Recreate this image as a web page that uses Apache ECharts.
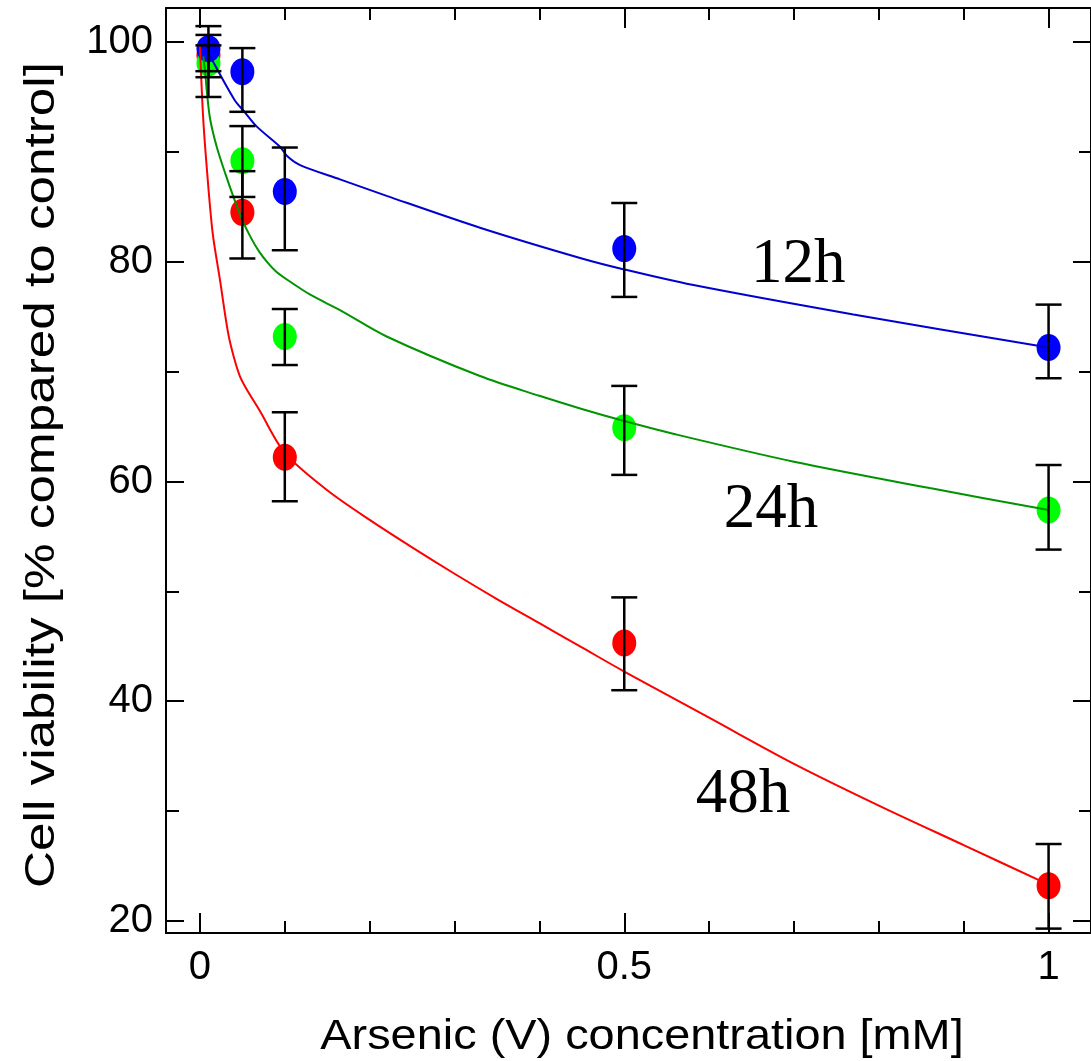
<!DOCTYPE html>
<html>
<head>
<meta charset="utf-8">
<script src="https://cdn.jsdelivr.net/npm/echarts@6/dist/echarts.min.js"></script>
<style>
  html, body { margin: 0; padding: 0; background: #ffffff; }
  #chart { width: 1091px; height: 1061px; }
</style>
</head>
<body>
<div id="chart"></div>
<script>
// Arsenic (V) concentrations (mM) at which viability was measured
const conc = [0.01, 0.05, 0.1, 0.5, 1];

// Mean viability (% of control) and error bar extents for each exposure time
const viab12 = [99.4, 97.3, 86.4, 81.2, 72.2];
const errUp12 = [2.05, 2.15, 4.0, 4.15, 3.9];
const errDn12 = [2.05, 3.65, 5.35, 4.4, 2.8];

const viab24 = [98.1, 89.2, 73.2, 64.9, 57.4];
const errUp24 = [1.6, 3.15, 2.5, 3.8, 4.1];
const errDn24 = [3.1, 3.3, 2.6, 4.3, 3.6];

const viab48 = [98.8, 84.5, 62.2, 45.3, 23.2];
const errUp48 = [1.85, 3.75, 4.1, 4.15, 3.8];
const errDn48 = [2.0, 4.2, 4.0, 4.3, 3.9];

// Fitted curves
const fitX12 = [0.01, 0.041, 0.053, 0.067, 0.094, 0.103, 0.118, 0.165, 0.22, 0.33, 0.45, 0.5, 0.58, 0.77, 1.0];
const fitY12 = [99.0, 94.7, 93.6, 92.3, 90.5, 89.6, 88.8, 87.5, 86.0, 83.1, 80.3, 79.3, 77.9, 75.2, 72.2];

const fitX24 = [0.004, 0.006, 0.008, 0.012, 0.02, 0.03, 0.04, 0.05, 0.06, 0.07, 0.08, 0.09, 0.106, 0.13, 0.165, 0.22, 0.33, 0.4, 0.45, 0.5, 0.56, 0.7, 0.86, 1.0];
const fitY24 = [98.7, 97.4, 95.6, 93.0, 90.4, 88.0, 85.8, 83.8, 82.2, 80.9, 79.9, 79.1, 78.2, 77.0, 75.6, 73.2, 69.6, 67.8, 66.6, 65.5, 64.3, 61.8, 59.4, 57.4];

const fitX48 = [0.0, 0.0035, 0.008, 0.015, 0.0235, 0.033, 0.04, 0.047, 0.055, 0.07, 0.1, 0.15, 0.2, 0.25, 0.3, 0.35, 0.4, 0.45, 0.5, 0.6, 0.7, 0.8, 0.9, 1.0];
const fitY48 = [99.7, 93.5, 88.6, 82.6, 78.4, 73.6, 71.3, 69.6, 68.4, 66.5, 62.6, 59.2, 56.5, 54.0, 51.6, 49.3, 47.1, 44.9, 42.7, 38.5, 34.3, 30.5, 26.9, 23.3];

// Axis ticks
const xMajorTicks = [0, 0.5, 1];
const xMinorTicks = [0.1, 0.2, 0.3, 0.4, 0.6, 0.7, 0.8, 0.9];
const yMajorTicks = [20, 40, 60, 80, 100];
const yMinorTicks = [30, 50, 70, 90];

// Curve labels, placed in data coordinates
const curveNames = ['12h', '24h', '48h'];
const curveNamePos = [[0.705, 79.7], [0.673, 57.4], [0.64, 31.4]];

const xTitle = 'Arsenic (V) concentration [mM]';
const yTitle = 'Cell viability [% compared to control]';

const pairs = (xs, ys) => xs.map((x, i) => [x, ys[i]]);
const errRows = (vals, up, dn) => conc.map((x, i) => [x, vals[i], vals[i] - dn[i], vals[i] + up[i]]);

const X_MIN = -0.04, X_MAX = 1.05;
const Y_MIN = 18.9, Y_MAX = 103.1;

const black = '#000000';
const sansFont = '"Liberation Sans", Arial, sans-serif';
const serifFont = '"Liberation Serif", "Times New Roman", serif';

function xAxisDef(pos, ticks, len, withLine, withLabels) {
  return {
    type: 'value', position: pos, min: X_MIN, max: X_MAX,
    axisLine: { show: withLine, onZero: false, lineStyle: { color: black, width: 2 } },
    axisTick: { show: true, inside: true, length: len, customValues: ticks, lineStyle: { color: black, width: 2 } },
    axisLabel: withLabels ? {
      show: true, customValues: ticks, color: black, fontSize: 40, fontFamily: sansFont, margin: 15,
      formatter: v => String(v)
    } : { show: false },
    splitLine: { show: false }
  };
}

function yAxisDef(pos, ticks, len, withLine, withLabels) {
  return {
    type: 'value', position: pos, min: Y_MIN, max: Y_MAX,
    axisLine: { show: withLine, onZero: false, lineStyle: { color: black, width: 2 } },
    axisTick: { show: true, inside: true, length: len, customValues: ticks, lineStyle: { color: black, width: 2 } },
    axisLabel: withLabels ? {
      show: true, customValues: ticks, color: black, fontSize: 40, fontFamily: sansFont, margin: 13
    } : { show: false },
    splitLine: { show: false }
  };
}

function errorBarSeries(vals, up, dn) {
  return {
    type: 'custom',
    xAxisIndex: 0, yAxisIndex: 0,
    z: 5,
    silent: true,
    data: errRows(vals, up, dn),
    renderItem: function (params, api) {
      const x = api.value(0);
      const pLo = api.coord([x, api.value(2)]);
      const pHi = api.coord([x, api.value(3)]);
      const half = 13;
      const style = { stroke: black, lineWidth: 2.5 };
      return {
        type: 'group',
        children: [
          { type: 'line', shape: { x1: pLo[0], y1: pLo[1], x2: pHi[0], y2: pHi[1] }, style },
          { type: 'line', shape: { x1: pLo[0] - half, y1: pLo[1], x2: pLo[0] + half, y2: pLo[1] }, style },
          { type: 'line', shape: { x1: pHi[0] - half, y1: pHi[1], x2: pHi[0] + half, y2: pHi[1] }, style }
        ]
      };
    }
  };
}

function dotSeries(vals, color, z) {
  return {
    type: 'scatter', xAxisIndex: 0, yAxisIndex: 0, z: z,
    symbol: 'circle', symbolSize: [24, 27],
    itemStyle: { color: color, opacity: 1 },
    data: pairs(conc, vals), silent: true
  };
}

function curveSeries(xs, ys, color) {
  return {
    type: 'line', xAxisIndex: 0, yAxisIndex: 0, z: 4,
    data: pairs(xs, ys), showSymbol: false, symbol: 'none',
    smooth: 0.3,
    lineStyle: { color: color, width: 2 }, silent: true
  };
}

const chart = echarts.init(document.getElementById('chart'), null, { renderer: 'canvas' });

chart.setOption({
  animation: false,
  backgroundColor: '#ffffff',
  grid: { left: 166, top: 8, width: 927, height: 925, containLabel: false },
  xAxis: [
    xAxisDef('bottom', xMajorTicks, 20, true, true),
    xAxisDef('bottom', xMinorTicks, 12, false, false),
    xAxisDef('top', xMajorTicks, 20, true, false),
    xAxisDef('top', xMinorTicks, 12, false, false)
  ],
  yAxis: [
    yAxisDef('left', yMajorTicks, 18, true, true),
    yAxisDef('left', yMinorTicks, 13, false, false),
    yAxisDef('right', yMajorTicks, 18, true, false),
    yAxisDef('right', yMinorTicks, 12, false, false)
  ],
  series: [
    dotSeries(viab48, '#ff0000', 2),
    dotSeries(viab24, '#00ff00', 2.1),
    dotSeries(viab12, '#0000ff', 2.2),
    curveSeries(fitX48, fitY48, '#ff0000'),
    curveSeries(fitX24, fitY24, '#009400'),
    curveSeries(fitX12, fitY12, '#0000d0'),
    errorBarSeries(viab48, errUp48, errDn48),
    errorBarSeries(viab24, errUp24, errDn24),
    errorBarSeries(viab12, errUp12, errDn12)
  ]
});

// Axis titles (stretched slightly along their length) and curve labels
const textItems = [
  {
    type: 'text', x: 642, y: 1037, scaleX: 1.09, silent: true, z: 10,
    style: { text: xTitle, fill: black, font: '43px ' + sansFont, align: 'center', verticalAlign: 'middle' }
  },
  {
    type: 'text', x: 42, y: 475, rotation: Math.PI / 2, scaleX: 1.22, silent: true, z: 10,
    style: { text: yTitle, fill: black, font: '42px ' + sansFont, align: 'center', verticalAlign: 'middle' }
  }
];
curveNamePos.forEach((p, i) => {
  const px = chart.convertToPixel({ xAxisIndex: 0, yAxisIndex: 0 }, p);
  textItems.push({
    type: 'text', x: px[0], y: px[1], silent: true, z: 10,
    style: { text: curveNames[i], fill: black, font: '63px ' + serifFont, align: 'center', verticalAlign: 'middle' }
  });
});
chart.setOption({ graphic: textItems });
</script>
</body>
</html>
